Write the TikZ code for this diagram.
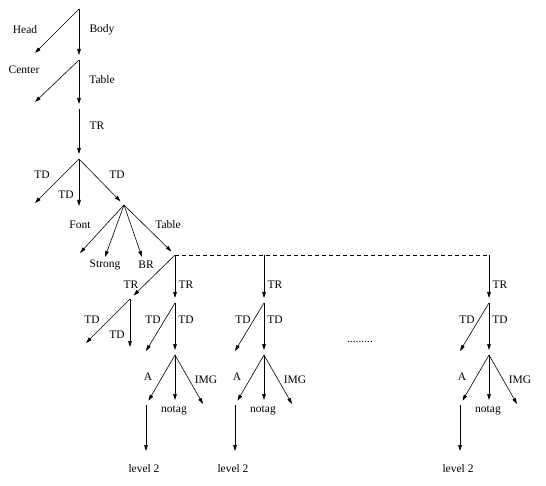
\documentclass[tikz,border=0pt]{standalone}
\usepackage{fontspec}
\setmainfont{Liberation Serif}
\usetikzlibrary{arrows.meta}

\begin{document}
\begin{tikzpicture}[
    x=1pt, y=-1pt,
    link/.style={-{Triangle[length=6pt,width=3.6pt]}, line width=0.6pt},
    into/.style={link, shorten >=5pt},
    level/.style={dash pattern=on 4pt off 3pt, line width=0.6pt},
    tag/.style={font=\fontsize{11.5}{13}\selectfont, inner sep=0pt}
]
\useasboundingbox (0,0) rectangle (546,486);
\fill[white] (0,0) rectangle (546,486);

% html spine
\coordinate (html) at (79,9);
\coordinate (head) at (35,53);
\coordinate (body) at (79,60);
\coordinate (center) at (35,102);
\coordinate (table) at (79,109);
\coordinate (tr) at (79,159);

\draw[link] (html) -- (head);
\draw[into] (html) -- (body);
\draw[link] (body) -- (center);
\draw[into] (body) -- (table);
\draw[into] (table) -- (tr);

% cells of the outer row
\coordinate (tdA) at (35,203);
\coordinate (tdB) at (79,206);
\coordinate (tdC) at (124,205);

\draw[link] (tr) -- (tdA);
\draw[link] (tr) -- (tdB);
\draw[into] (tr) -- (tdC);

% content of the third cell
\coordinate (font) at (80,253);
\coordinate (strong) at (105,257);
\coordinate (br) at (142,257);
\coordinate (inner) at (175,255);

\draw[link] (tdC) -- (font);
\draw[link] (tdC) -- (strong);
\draw[link] (tdC) -- (br);
\draw[into] (tdC) -- (inner);

% same level
\coordinate (innerB) at (264,255);
\coordinate (innerC) at (489,255);
\draw[level] (inner) -- (innerB) -- (innerC);

% first inner table, extra row
\coordinate (trX) at (130,299);
\coordinate (trXa) at (86,343);
\coordinate (trXb) at (130,347);

\draw[into] (inner) -- (trX);
\draw[link] (trX) -- (trXa);
\draw[link] (trX) -- (trXb);

% first inner table
\coordinate (trA) at (175,303);
\coordinate (tdAa) at (146,351);
\coordinate (tdAb) at (175,355);
\coordinate (aA) at (146,405);
\coordinate (notagA) at (175,400);
\coordinate (imgA) at (203,404);
\coordinate (lvlA) at (146,451);

\draw[into] (inner) -- (trA);
\draw[link] (trA) -- (tdAa);
\draw[into] (trA) -- (tdAb);
\draw[into] (tdAb) -- (aA);
\draw[link] (tdAb) -- (notagA);
\draw[link] (tdAb) -- (imgA);
\draw[link] (aA) -- (lvlA);

% second inner table
\coordinate (trB) at (264,303);
\coordinate (tdBa) at (235,351);
\coordinate (tdBb) at (264,355);
\coordinate (aB) at (235,405);
\coordinate (notagB) at (264,400);
\coordinate (imgB) at (292,404);
\coordinate (lvlB) at (235,451);

\draw[into] (innerB) -- (trB);
\draw[link] (trB) -- (tdBa);
\draw[into] (trB) -- (tdBb);
\draw[into] (tdBb) -- (aB);
\draw[link] (tdBb) -- (notagB);
\draw[link] (tdBb) -- (imgB);
\draw[link] (aB) -- (lvlB);

% last inner table
\coordinate (trC) at (489,303);
\coordinate (tdCa) at (460,351);
\coordinate (tdCb) at (489,355);
\coordinate (aC) at (460,405);
\coordinate (notagC) at (489,400);
\coordinate (imgC) at (517,404);
\coordinate (lvlC) at (460,451);

\draw[into] (innerC) -- (trC);
\draw[link] (trC) -- (tdCa);
\draw[into] (trC) -- (tdCb);
\draw[into] (tdCb) -- (aC);
\draw[link] (tdCb) -- (notagC);
\draw[link] (tdCb) -- (imgC);
\draw[link] (aC) -- (lvlC);

% labels
\node[tag] (lHead) at (25,30) {Head};
\node[tag] (lBody) at (102,30) {Body};
\node[tag] (lCenter) at (24,70) {Center};
\node[tag] (lTable) at (102,80) {Table};
\node[tag] (lTr) at (97,126) {TR};
\node[tag] (lTdA) at (42,175) {TD};
\node[tag] (lTdB) at (66,195) {TD};
\node[tag] (lTdC) at (117,175) {TD};
\node[tag] (lFont) at (80,225) {Font};
\node[tag] (lStrong) at (105,265) {Strong};
\node[tag] (lBr) at (146,265) {BR};
\node[tag] (lInner) at (168,225) {Table};

\node[tag] (lTrX) at (131,285) {TR};
\node[tag] (lTdXa) at (92,320) {TD};
\node[tag] (lTdXb) at (117,335) {TD};

\node[tag] (lTrA) at (186,285) {TR};
\node[tag] (lTdAa) at (153,320) {TD};
\node[tag] (lTdAb) at (186,320) {TD};
\node[tag] (lAA) at (148,377) {A};
\node[tag] (lNotagA) at (174,411) {notag};
\node[tag] (lImgA) at (206,380) {IMG};
\node[tag] (lLvlA) at (144,469) {level 2};

\node[tag] (lTrB) at (275,285) {TR};
\node[tag] (lTdBa) at (243,320) {TD};
\node[tag] (lTdBb) at (275,320) {TD};
\node[tag] (lAB) at (237,377) {A};
\node[tag] (lNotagB) at (263,411) {notag};
\node[tag] (lImgB) at (295,380) {IMG};
\node[tag] (lLvlB) at (233,469) {level 2};

\node[tag] (lDots) at (360,342) {.........};

\node[tag] (lTrC) at (500,285) {TR};
\node[tag] (lTdCa) at (467,320) {TD};
\node[tag] (lTdCb) at (500,320) {TD};
\node[tag] (lAC) at (462,377) {A};
\node[tag] (lNotagC) at (488,411) {notag};
\node[tag] (lImgC) at (520,380) {IMG};
\node[tag] (lLvlC) at (458,469) {level 2};
\end{tikzpicture}
\end{document}
